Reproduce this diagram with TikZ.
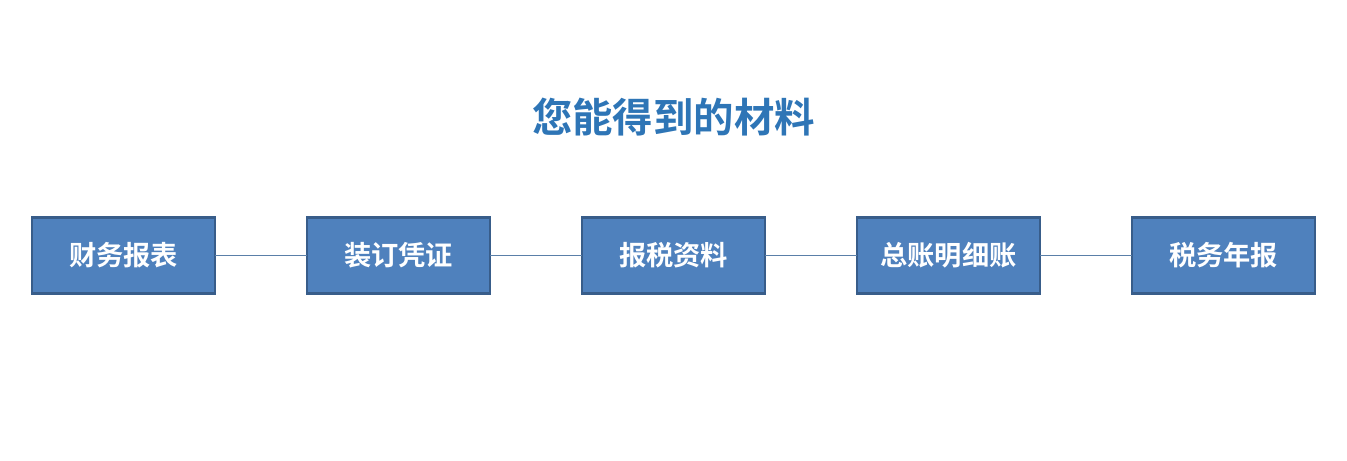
\documentclass[tikz,border=0pt]{standalone}
\usepackage{fontspec}
\newfontfamily\cjk{Noto Sans CJK SC Bold}
\usepackage{tikz}
\usetikzlibrary{positioning}
\definecolor{boxfill}{HTML}{4F81BD}
\definecolor{boxline}{HTML}{385D8A}
\definecolor{titleblue}{HTML}{2E75B6}
\definecolor{linkline}{HTML}{5A7FA8}
\tikzset{item/.style={draw=boxline,fill=boxfill,line width=1.6pt,
    minimum width=3.66cm,minimum height=1.52cm,inner sep=0pt,outer sep=0pt,
    text=white,font=\cjk\fontsize{15.5pt}{18pt}\selectfont},
  link/.style={draw=linkline,line width=0.6pt}}

\begin{document}
\begin{tikzpicture}[node distance=1.84cm]

  \useasboundingbox (0,0) rectangle (26.94,9.22);

  \node (title) at (13.47,6.88) {\textcolor{titleblue}{\cjk\fontsize{23pt}{27pt}\selectfont 您能得到的材料}};

  \node [item] (report) at (2.47,4.11) {财务报表};
  \node [item,right=of report] (voucher) {装订凭证};
  \node [item,right=of voucher] (taxdoc) {报税资料};
  \node [item,right=of taxdoc] (ledger) {总账明细账};
  \node [item,right=of ledger] (annual) {税务年报};

  \draw [link] (report) -- (voucher);
  \draw [link] (voucher) -- (taxdoc);
  \draw [link] (taxdoc) -- (ledger);
  \draw [link] (ledger) -- (annual);

\end{tikzpicture}
\end{document}
